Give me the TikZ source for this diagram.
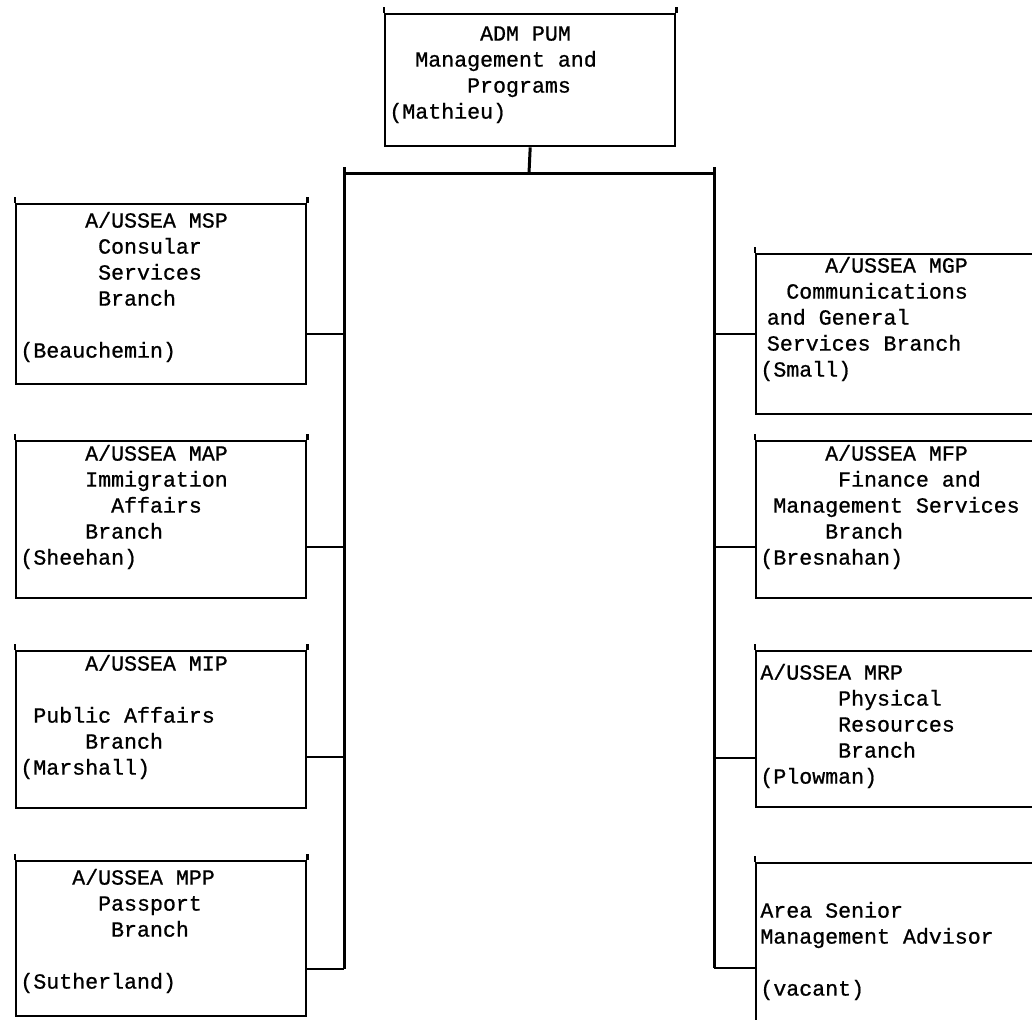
\documentclass[tikz,border=0pt]{standalone}
\usepackage{fontspec}
\usetikzlibrary{positioning}
\newfontfamily\typewr[FakeBold=0.8]{Liberation Mono}
% indent by a number of typewriter columns
\newcommand\ind[1]{\hspace*{\dimexpr#1em*6/10\relax}}

\begin{document}
\begin{tikzpicture}[x=0.5pt, y=-0.5pt,
        box/.style={draw, line width=1.2pt, rectangle, anchor=north west, minimum width=145pt, inner sep=0pt},
        rbox/.style={box, minimum width=150pt},
        txt/.style={anchor=north west, inner sep=0pt, align=left, font=\typewr\fontsize{10.8}{13}\selectfont},
        link/.style={line width=1.2pt},
        trunk/.style={line width=1.5pt}]
      \useasboundingbox (0,0) rectangle (1032,1019);
      \clip (0,0) rectangle (1032,1019);

      % Head
      \node[box, minimum height=66pt] (pum) at (384,13) {};
      \node[txt] (pumtxt) at ([xshift=2.5pt, yshift=-4.5pt]pum.north west)
        {\strut\ind{7}ADM PUM\\ \ind{2}Management and\\ \ind{6}Programs\\ (Mathieu)};

      % Left branches
      \node[box, minimum height=90pt] (msp) at (15,203) {};
      \node[box, minimum height=78.5pt] (map) at (15,440) {};
      \node[box, minimum height=78.5pt] (mip) at (15,650) {};
      \node[box, minimum height=77.5pt] (mpp) at (15,860) {};
      \node[txt] (msptxt) at ([xshift=2.5pt, yshift=-3pt]msp.north west)
        {\strut\ind{5}A/USSEA MSP\\ \ind{6}Consular\\ \ind{6}Services\\ \ind{6}Branch\\ \strut\\ (Beauchemin)};
      \node[txt] (maptxt) at ([xshift=2.5pt, yshift=-1pt]map.north west)
        {\strut\ind{5}A/USSEA MAP\\ \ind{5}Immigration\\ \ind{7}Affairs\\ \ind{5}Branch\\ (Sheehan)};
      \node[txt] (miptxt) at ([xshift=2.5pt, yshift=-1pt]mip.north west)
        {\strut\ind{5}A/USSEA MIP\\ \strut\\ \ind{1}Public Affairs\\ \ind{5}Branch\\ (Marshall)};
      \node[txt] (mpptxt) at ([xshift=2.5pt, yshift=-3pt]mpp.north west)
        {\strut\ind{4}A/USSEA MPP\\ \ind{6}Passport\\ \ind{7}Branch\\ \strut\\ (Sutherland)};

      % Right branches
      \node[rbox, minimum height=80pt] (mgp) at (755,253) {};
      \node[rbox, minimum height=78.5pt] (mfp) at (755,440) {};
      \node[rbox, minimum height=78pt] (mrp) at (755,650) {};
      \node[rbox, minimum height=100pt] (asma) at (755,862) {};
      \node[txt] (mgptxt) at ([xshift=2.5pt, yshift=-0.5pt]mgp.north west)
        {\strut\ind{5}A/USSEA MGP\\ \ind{2}Communications\\ \ind{0.5}and General\\ \ind{0.5}Services Branch\\ (Small)};
      \node[txt] (mfptxt) at ([xshift=2.5pt, yshift=-1pt]mfp.north west)
        {\strut\ind{5}A/USSEA MFP\\ \ind{6}Finance and\\ \ind{1}Management Services\\ \ind{5}Branch\\ (Bresnahan)};
      \node[txt] (mrptxt) at ([xshift=2.5pt, yshift=-5.5pt]mrp.north west)
        {\strut A/USSEA MRP\\ \ind{6}Physical\\ \ind{6}Resources\\ \ind{6}Branch\\ (Plowman)};
      \node[txt] (asmatxt) at ([xshift=2.5pt, yshift=-5.5pt]asma.north west)
        {\strut\\ Area Senior\\ Management Advisor\\ \strut\\ (vacant)};

      % typewriter ticks above the boxes
      \foreach \b in {pum, msp, map, mip, mpp} {
        \draw[link] (\b.north west) -- ++(0,3pt);
        \draw[link] (\b.north east) -- ++(0,3pt);
      }
      \foreach \b in {mgp, mfp, mrp, asma}
        \draw[link] (\b.north west) -- ++(0,3pt);

      % Connectors
      \coordinate (hub) at (529,173);
      \coordinate (ltop) at (344,173);
      \coordinate (rtop) at (714,173);
      \draw[trunk] (pum.south) -- (hub);
      \draw[trunk] (ltop) -- (rtop);
      \foreach \b/\d in {msp/20pt, map/13.5pt, mip/13.5pt, mpp/15pt} {
        \coordinate (c\b) at ([yshift=-\d]\b.east);
        \draw[link] (c\b) -- (c\b -| ltop);
      }
      \foreach \b/\d in {mgp/0pt, mfp/13.5pt, mrp/14.5pt, asma/2.5pt} {
        \coordinate (c\b) at ([yshift=-\d]\b.west);
        \draw[link] (c\b) -- (c\b -| rtop);
      }
      \draw[trunk] ([yshift=3pt]ltop) -- (cmpp -| ltop);
      \draw[trunk] ([yshift=3pt]rtop) -- (casma -| rtop);
    \end{tikzpicture}
\end{document}
